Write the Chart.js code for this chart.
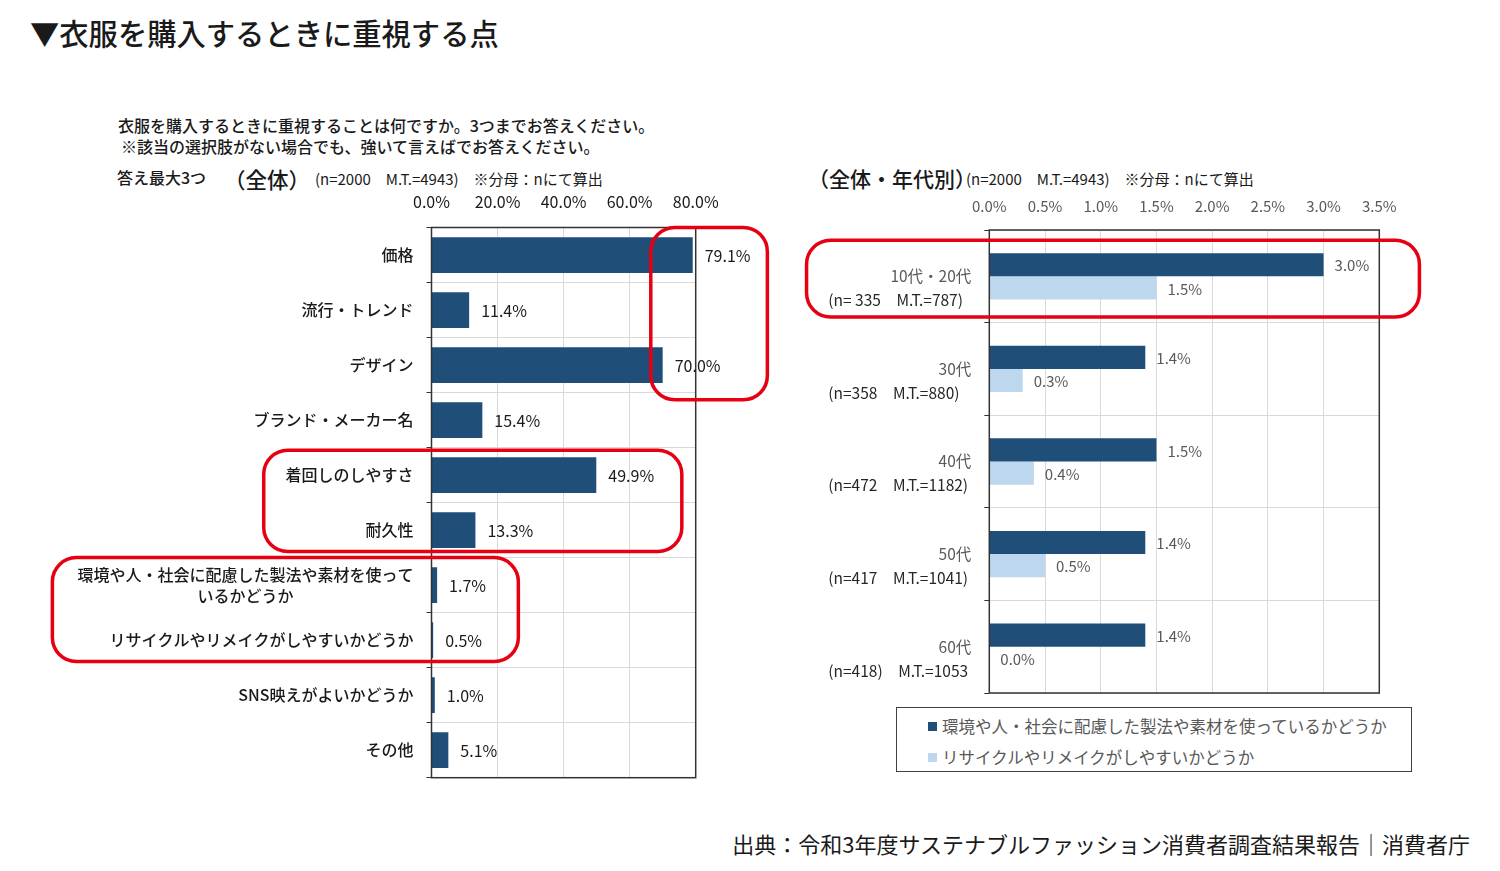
<!DOCTYPE html>
<html lang="ja">
<head>
<meta charset="utf-8">
<script src="https://cdn.jsdelivr.net/npm/chart.js@4.4.1/dist/chart.umd.min.js"></script>
<style>
  body { margin: 0; width: 1500px; height: 871px; background: #fff; position: relative; overflow: hidden;
         font-family: "Noto Sans CJK JP", sans-serif; color: #1a1a1a; }
  .t { position: absolute; white-space: nowrap; line-height: 1; }
  .box { position: absolute; }
  #legend { position: absolute; left: 896px; top: 707px; width: 514px; height: 63px; border: 1.5px solid #404040; }
  #legend div { position: absolute; left: 31px; font-size: 16.5px; color: #595959; white-space: nowrap; line-height: 1; }
  #legend span { display: inline-block; width: 9px; height: 9px; margin-right: 5px; vertical-align: 2px; }
</style>
</head>
<body>
<div class="t" style="left:30px;top:18px;font-size:29.3px;font-weight:500;">▼衣服を購入するときに重視する点</div>

<div class="t" style="left:118px;top:117px;font-size:16px;font-weight:500;">衣服を購入するときに重視することは何ですか。3つまでお答えください。</div>
<div class="t" style="left:121px;top:138px;font-size:16px;font-weight:500;">※該当の選択肢がない場合でも、強いて言えばでお答えください。</div>
<div class="t" style="left:117px;top:169px;font-size:16px;font-weight:500;">答え最大3つ</div>
<div class="t" style="left:224px;top:168px;font-size:21.5px;font-weight:500;">（全体）</div>
<div class="t" style="left:315px;top:171px;font-size:15px;">(n=2000　M.T.=4943)　※分母：nにて算出</div>

<div class="t" style="left:808px;top:168px;font-size:21px;font-weight:500;">（全体・年代別）</div>
<div class="t" style="left:966px;top:171px;font-size:15px;">(n=2000　M.T.=4943)　※分母：nにて算出</div>

<div class="box" style="left:0;top:170px;width:790px;height:620px;"><canvas id="overall"></canvas></div>
<div class="box" style="left:790px;top:170px;width:660px;height:530px;"><canvas id="byAge"></canvas></div>

<div id="legend"></div>

<div class="t" style="right:30px;top:832px;font-size:22px;">出典：令和3年度サステナブルファッション消費者調査結果報告｜消費者庁</div>

<script>
// --- data ---
const itemLabels = [
  ['価格'],
  ['流行・トレンド'],
  ['デザイン'],
  ['ブランド・メーカー名'],
  ['着回しのしやすさ'],
  ['耐久性'],
  ['環境や人・社会に配慮した製法や素材を使って', 'いるかどうか'],
  ['リサイクルやリメイクがしやすいかどうか'],
  ['SNS映えがよいかどうか'],
  ['その他']
];
const itemValues = [79.1, 11.4, 70.0, 15.4, 49.9, 13.3, 1.7, 0.5, 1.0, 5.1];
const overallMax = 80;
const overallStep = 20;

const ageLabels = [
  ['10代・20代', '(n= 335　M.T.=787)'],
  ['30代', '(n=358　M.T.=880)'],
  ['40代', '(n=472　M.T.=1182)'],
  ['50代', '(n=417　M.T.=1041)'],
  ['60代', '(n=418)　M.T.=1053']
];
const ecoValues = [3.0, 1.4, 1.5, 1.4, 1.4];
const recycleValues = [1.5, 0.3, 0.4, 0.5, 0.0];
const seriesNames = ['環境や人・社会に配慮した製法や素材を使っているかどうか', 'リサイクルやリメイクがしやすいかどうか'];
const ageMax = 3.5;
const ageStep = 0.5;

const DARK = '#1f4e79';
const LIGHT = '#bdd7ee';
const FONT = '"Noto Sans CJK JP", sans-serif';

// red highlight frames, in scale units (x = value, y = category index)
const overallHighlights = [
  { x: [66.4, 101.7], y: [-0.5, 2.63] },
  { x: [-50.8, 75.8], y: [3.55, 5.39] },
  { x: [-114.8, 26.3], y: [5.5, 7.39] }
];
const ageHighlights = [
  { x: [-1.64, 3.86], y: [-0.39, 0.44] }
];

const pct = v => v.toFixed(1) + '%';

// frame around the plot area
const framePlugin = {
  id: 'frame',
  afterDatasetsDraw(chart) {
    const a = chart.chartArea, ctx = chart.ctx;
    ctx.save();
    ctx.strokeStyle = '#333';
    ctx.lineWidth = 1.5;
    ctx.strokeRect(a.left, a.top, a.right - a.left, a.bottom - a.top);
    ctx.restore();
  }
};

// value labels at the end of every bar
const valueLabelPlugin = {
  id: 'valueLabels',
  afterDatasetsDraw(chart, args, opts) {
    const ctx = chart.ctx;
    ctx.save();
    ctx.font = opts.font;
    ctx.fillStyle = opts.color;
    ctx.textAlign = 'left';
    ctx.textBaseline = 'middle';
    chart.data.datasets.forEach((ds, di) => {
      chart.getDatasetMeta(di).data.forEach((bar, i) => {
        ctx.fillText(pct(ds.data[i]), bar.x + opts.offset, bar.y + 1);
      });
    });
    ctx.restore();
  }
};

// category labels drawn beside the y axis
const categoryLabelPlugin = {
  id: 'catLabels',
  afterDraw(chart, args, opts) {
    const ctx = chart.ctx, y = chart.scales.y, left = chart.chartArea.left;
    ctx.save();
    ctx.textBaseline = 'middle';
    opts.labels.forEach((lines, i) => {
      const cy = y.getPixelForValue(i);
      if (opts.mode === 'overall') {
        ctx.font = opts.font;
        ctx.fillStyle = opts.color;
        const right = left - 18;
        const w0 = ctx.measureText(lines[0]).width;
        const mid = right - w0 / 2;
        const top = cy - (lines.length - 1) * 21 / 2;
        lines.forEach((ln, k) => {
          ctx.textAlign = k === 0 ? 'right' : 'center';
          ctx.fillText(ln, k === 0 ? right : mid, top + k * 21);
        });
      } else {
        ctx.font = opts.font;
        ctx.fillStyle = '#595959';
        ctx.textAlign = 'right';
        ctx.fillText(lines[0], left - 18, cy);
        ctx.fillStyle = '#262626';
        ctx.textAlign = 'left';
        ctx.fillText(lines[1], left - 161, cy + 24);
      }
    });
    ctx.restore();
  }
};

// red rounded highlight frames
const highlightPlugin = {
  id: 'highlights',
  afterDraw(chart, args, opts) {
    const ctx = chart.ctx, xs = chart.scales.x, ys = chart.scales.y;
    ctx.save();
    ctx.strokeStyle = '#e60012';
    ctx.lineWidth = 3.5;
    opts.frames.forEach(f => {
      const x0 = xs.getPixelForValue(f.x[0]), x1 = xs.getPixelForValue(f.x[1]);
      const y0 = ys.getPixelForValue(f.y[0]), y1 = ys.getPixelForValue(f.y[1]);
      ctx.beginPath();
      ctx.roundRect(x0, y0, x1 - x0, y1 - y0, 24);
      ctx.stroke();
    });
    ctx.restore();
  }
};

Chart.defaults.font.family = FONT;
Chart.defaults.animation = false;

new Chart(document.getElementById('overall'), {
  type: 'bar',
  data: {
    labels: itemLabels.map(l => l.join('')),
    datasets: [{ data: itemValues, backgroundColor: DARK, categoryPercentage: 0.65, barPercentage: 1.0 }]
  },
  options: {
    indexAxis: 'y',
    responsive: true,
    maintainAspectRatio: false,
    layout: { padding: { left: 426.5, right: 94.3, top: 6.3, bottom: 12.3 } },
    scales: {
      x: {
        position: 'top', min: 0, max: overallMax,
        ticks: { stepSize: overallStep, callback: v => pct(v), color: '#1a1a1a', font: { size: 16 }, padding: 16 },
        grid: { color: '#d9d9d9', drawTicks: false },
        border: { display: false }
      },
      y: {
        ticks: { display: false },
        grid: { color: '#d9d9d9', offset: true, tickLength: 5, tickColor: '#333' },
        border: { display: false }
      }
    },
    plugins: {
      legend: { display: false },
      tooltip: { enabled: false },
      valueLabels: { font: '16px ' + FONT, color: '#1a1a1a', offset: 12 },
      catLabels: { mode: 'overall', labels: itemLabels, font: '500 16px ' + FONT, color: '#1a1a1a' },
      highlights: { frames: overallHighlights }
    }
  },
  plugins: [framePlugin, valueLabelPlugin, categoryLabelPlugin, highlightPlugin]
});

new Chart(document.getElementById('byAge'), {
  type: 'bar',
  data: {
    labels: ageLabels.map(l => l.join(' ')),
    datasets: [
      { label: seriesNames[0], data: ecoValues, backgroundColor: DARK, categoryPercentage: 0.5, barPercentage: 1.0 },
      { label: seriesNames[1], data: recycleValues, backgroundColor: LIGHT, categoryPercentage: 0.5, barPercentage: 1.0 }
    ]
  },
  options: {
    indexAxis: 'y',
    responsive: true,
    maintainAspectRatio: false,
    layout: { padding: { left: 194.3, right: 70.7, top: 12, bottom: 7 } },
    scales: {
      x: {
        position: 'top', min: 0, max: ageMax,
        ticks: { stepSize: ageStep, callback: v => pct(v), color: '#595959', font: { size: 15 }, padding: 15 },
        grid: { color: '#d9d9d9', drawTicks: false },
        border: { display: false }
      },
      y: {
        ticks: { display: false },
        grid: { color: '#d9d9d9', offset: true, tickLength: 5, tickColor: '#333' },
        border: { display: false }
      }
    },
    plugins: {
      legend: { display: false },
      tooltip: { enabled: false },
      valueLabels: { font: '15px ' + FONT, color: '#595959', offset: 11 },
      catLabels: { mode: 'age', labels: ageLabels, font: '15.5px ' + FONT },
      highlights: { frames: ageHighlights }
    }
  },
  plugins: [framePlugin, valueLabelPlugin, categoryLabelPlugin, highlightPlugin]
});

// legend built from the series names and colours
const legendEl = document.getElementById('legend');
[DARK, LIGHT].forEach((c, i) => {
  const row = document.createElement('div');
  row.style.top = (i === 0 ? 10 : 41) + 'px';
  row.innerHTML = '<span style="background:' + c + '"></span>' + seriesNames[i];
  legendEl.appendChild(row);
});
</script>
</body>
</html>
